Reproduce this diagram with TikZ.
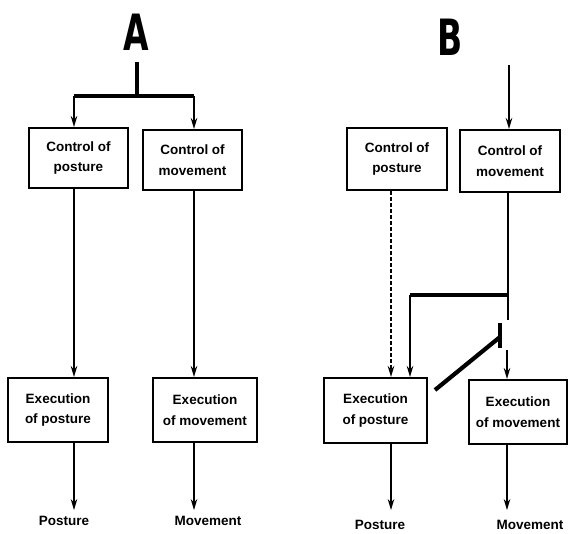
\documentclass[tikz,border=0pt]{standalone}
\usepackage{fontspec}
\setmainfont{Liberation Sans}
\newfontfamily\bigfont{DejaVu Sans}
\usetikzlibrary{arrows.meta,calc}
\begin{document}
\begin{tikzpicture}[x=1pt,y=-1pt,
  boxn/.style={draw,line width=2pt,inner sep=0pt,align=center,
    font=\fontsize{13.5}{20.5}\selectfont\bfseries},
  lab/.style={inner sep=0pt,font=\fontsize{13.5}{15}\selectfont\bfseries},
  big/.style={inner sep=0pt,font=\bigfont\fontsize{50}{50}\selectfont\bfseries},
  conn/.style={line width=2.6pt},
  arr/.style={line width=2.6pt,-{Stealth[length=11pt,width=6.5pt]}},
  heavy/.style={line width=3.8pt},
  dashline/.style={line width=2.6pt,dash pattern=on 4pt off 2pt,-{Stealth[length=11pt,width=6.5pt]}}]
\useasboundingbox (0,0) rectangle (568,534);
% ---------- Panel A ----------
\node[big] (tA) at (136,32) {\scalebox{0.66}[1]{A}};
\node[boxn,minimum width=99pt,minimum height=60pt] (cp1) at (78.5,158) {Control of\\posture};
\node[boxn,minimum width=99pt,minimum height=60pt] (cm1) at (192.5,160) {Control of\\movement};
\node[boxn,minimum width=100pt,minimum height=64pt] (ep1) at (58,410) {Execution\\of posture};
\node[boxn,minimum width=104pt,minimum height=64pt] (em1) at (205,410) {Execution\\of movement};
\node[lab] (lp1) at (64,521) {Posture};
\node[lab] (lm1) at (208,521) {Movement};
\coordinate (inA) at (137,62);
\coordinate (jA) at (137,96);
\coordinate (xA1) at (74,0);
\coordinate (xA2) at (194,0);
\draw[heavy] (inA) -- (jA);
\draw[heavy] (jA -| xA1) -- (jA -| xA2);
\draw[arr] (jA -| xA1) -- (cp1.north -| xA1);
\draw[arr] (jA -| xA2) -- (cm1.north -| xA2);
\draw[arr] (cp1.south -| xA1) -- (ep1.north -| xA1);
\draw[arr] (cm1.south -| xA2) -- (em1.north -| xA2);
\draw[arr] (ep1.south -| xA1) -- ([yshift=6pt]lp1.north -| xA1);
\draw[arr] (em1.south -| xA2) -- ([yshift=6pt]lm1.north -| xA2);
% ---------- Panel B ----------
\node[big] (tB) at (450,37) {\scalebox{0.66}[1]{B}};
\node[boxn,minimum width=100pt,minimum height=62pt] (cp2) at (397,159) {Control of\\posture};
\node[boxn,minimum width=100pt,minimum height=62pt] (cm2) at (510,161) {Control of\\movement};
\node[boxn,minimum width=103pt,minimum height=65pt] (ep2) at (375.5,410.5) {Execution\\of posture};
\node[boxn,minimum width=98pt,minimum height=64pt] (em2) at (518,412) {Execution\\of movement};
\node[lab] (lp2) at (380,525) {Posture};
\node[lab] (lm2) at (530,525) {Movement};
\coordinate (inB) at (509,65);
\coordinate (xB1) at (391,0);
\coordinate (xB2) at (410,0);
\coordinate (xB3) at (508,0);
\coordinate (hB) at (508,295);
\coordinate (sw1) at (508,320);
\coordinate (swT) at (500,323);
\coordinate (swB) at (500,348);
\coordinate (swP) at (500,337);
\coordinate (swL) at (435,390);
\coordinate (low) at (507,350);
\draw[arr] (inB) -- (cm2.north -| inB);
\draw[dashline] (cp2.south -| xB1) -- (ep2.north -| xB1);
\draw[conn] (cm2.south -| xB3) -- (sw1);
\draw[heavy] (hB) -- (hB -| xB2);
\draw[arr] (hB -| xB2) -- (ep2.north -| xB2);
\draw[heavy] (swT) -- (swB);
\draw[line width=4.2pt] (swL) -- (swP);
\draw[arr] (low) -- (em2.north -| low);
\draw[arr] (ep2.south -| xB1) -- ([yshift=10pt]lp2.north -| xB1);
\draw[arr] (em2.south -| low) -- ([yshift=10pt]lm2.north -| low);
\end{tikzpicture}
\end{document}
